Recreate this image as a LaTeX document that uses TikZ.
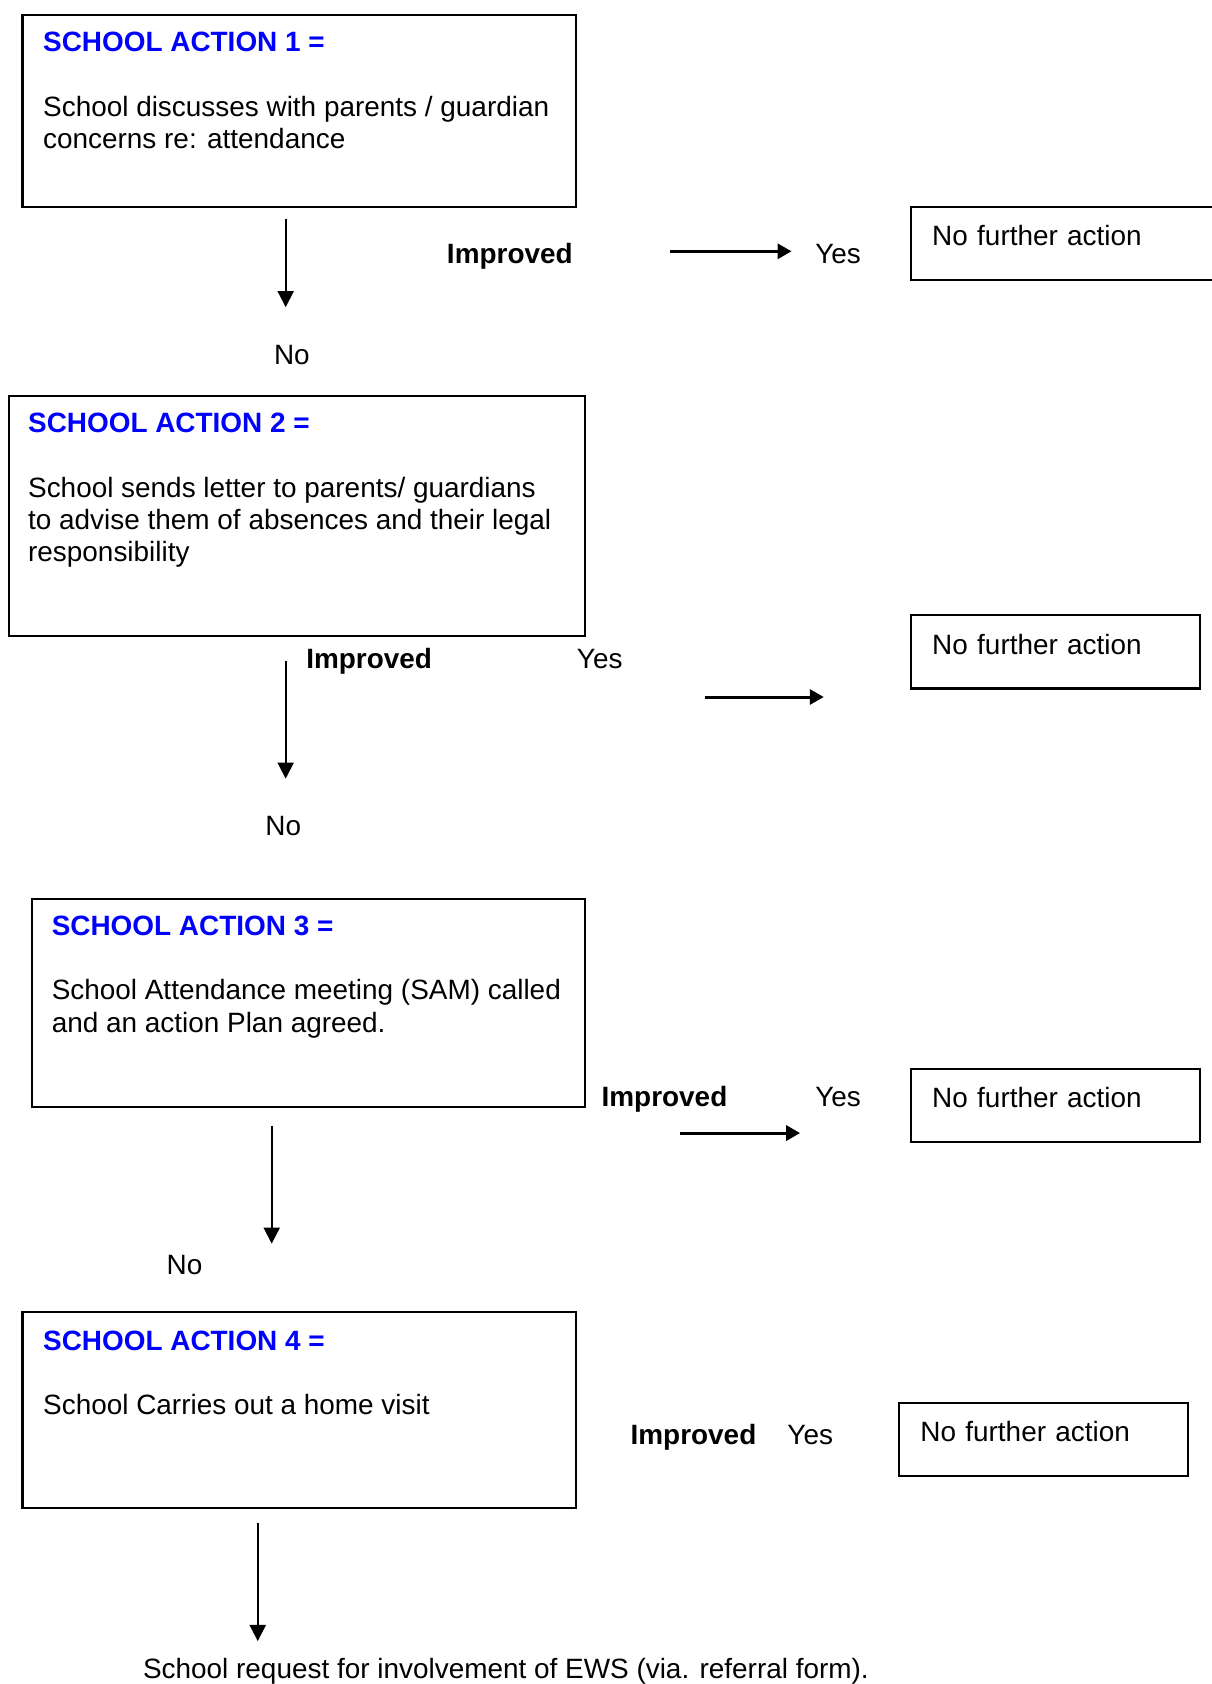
\documentclass[tikz,border=0pt]{standalone}
\usepackage{fontspec}
\setmainfont{Liberation Sans}
\usetikzlibrary{arrows.meta}
\newcommand{\acttitle}[1]{{\color{blue}\textbf{SCHOOL ACTION #1 =}}}

\begin{document}
\begin{tikzpicture}[x=1pt, y=-1pt,
  font=\fontsize{26}{30}\selectfont,
  actbox/.style={draw, line width=2pt, anchor=north west, inner sep=0pt},
  acttext/.style={anchor=north west, inner sep=0pt, align=left},
  nfa/.style={draw, line width=2pt, anchor=north west, inner xsep=20pt, inner ysep=0pt,
    text height=36pt, text depth=32pt, text width=229pt, align=left},
  lbl/.style={anchor=base west, inner sep=0pt},
  noarr/.style={-{Triangle[length=15pt, width=15pt]}, line width=1.8pt},
  yesarr/.style={-{Triangle[length=13pt, width=14pt]}, line width=2.8pt}
]
  \useasboundingbox (0,0) rectangle (1128,1568);

  \node[actbox, minimum width=515pt, minimum height=179pt] (sa1) at (20,13) {};
  \node[acttext] (t1) at (40,29.7) {
    \acttitle{1}\\[30pt]
    School discusses with parents / guardian\\
    concerns re: attendance
  };
  \node[lbl, font=\fontsize{26}{30}\selectfont\bfseries] (imp1) at (416,245) {Improved};
  \node[lbl] (yes1) at (759,245) {Yes};
  \node[nfa, text width=300pt] (nfa1) at (847,192) {No further action};
  \node[lbl] (no1) at (255,339) {No};

  \node[actbox, minimum width=537pt, minimum height=223pt] (sa2) at (7,368) {};
  \node[acttext] (t2) at (26,384.7) {
    \acttitle{2}\\[30pt]
    School sends letter to parents/ guardians\\
    to advise them of absences and their legal\\
    responsibility
  };
  \node[lbl, font=\fontsize{26}{30}\selectfont\bfseries] (imp2) at (285,622) {Improved};
  \node[lbl] (yes2) at (537,622) {Yes};
  \node[nfa] (nfa2) at (847,572) {No further action};
  \node[lbl] (no2) at (247,778) {No};

  \node[actbox, minimum width=515pt, minimum height=194pt] (sa3) at (29,836) {};
  \node[acttext] (t3) at (48,852.7) {
    \acttitle{3}\\[30pt]
    School Attendance meeting (SAM) called\\
    and an action Plan agreed.
  };
  \node[lbl, font=\fontsize{26}{30}\selectfont\bfseries] (imp3) at (560,1030) {Improved};
  \node[lbl] (yes3) at (759,1030) {Yes};
  \node[nfa] (nfa3) at (847,994) {No further action};
  \node[lbl] (no3) at (155,1187) {No};

  \node[actbox, minimum width=515pt, minimum height=182pt] (sa4) at (20,1221) {};
  \node[acttext] (t4) at (40,1238.7) {
    \acttitle{4}\\[30pt]
    School Carries out a home visit
  };
  \node[lbl, font=\fontsize{26}{30}\selectfont\bfseries] (imp4) at (587,1345) {Improved};
  \node[lbl] (yes4) at (733,1345) {Yes};
  \node[nfa] (nfa4) at (836,1305) {No further action};
  \node[lbl] (ews) at (133,1563) {School request for involvement of EWS (via. referral form).};

  \coordinate (d1a) at (266,204);   \coordinate (d1b) at (266,286);
  \coordinate (r1a) at (624,234);   \coordinate (r1b) at (737,234);
  \coordinate (d2a) at (266,615);   \coordinate (d2b) at (266,725);
  \coordinate (r2a) at (656,649);   \coordinate (r2b) at (767,649);
  \coordinate (d3a) at (253,1048);  \coordinate (d3b) at (253,1158);
  \coordinate (r3a) at (633,1055);  \coordinate (r3b) at (745,1055);
  \coordinate (d4a) at (240,1418);  \coordinate (d4b) at (240,1528);

  \draw[noarr] (d1a) -- (d1b);
  \draw[yesarr] (r1a) -- (r1b);
  \draw[noarr] (d2a) -- (d2b);
  \draw[yesarr] (r2a) -- (r2b);
  \draw[noarr] (d3a) -- (d3b);
  \draw[yesarr] (r3a) -- (r3b);
  \draw[noarr] (d4a) -- (d4b);
\end{tikzpicture}
\end{document}
